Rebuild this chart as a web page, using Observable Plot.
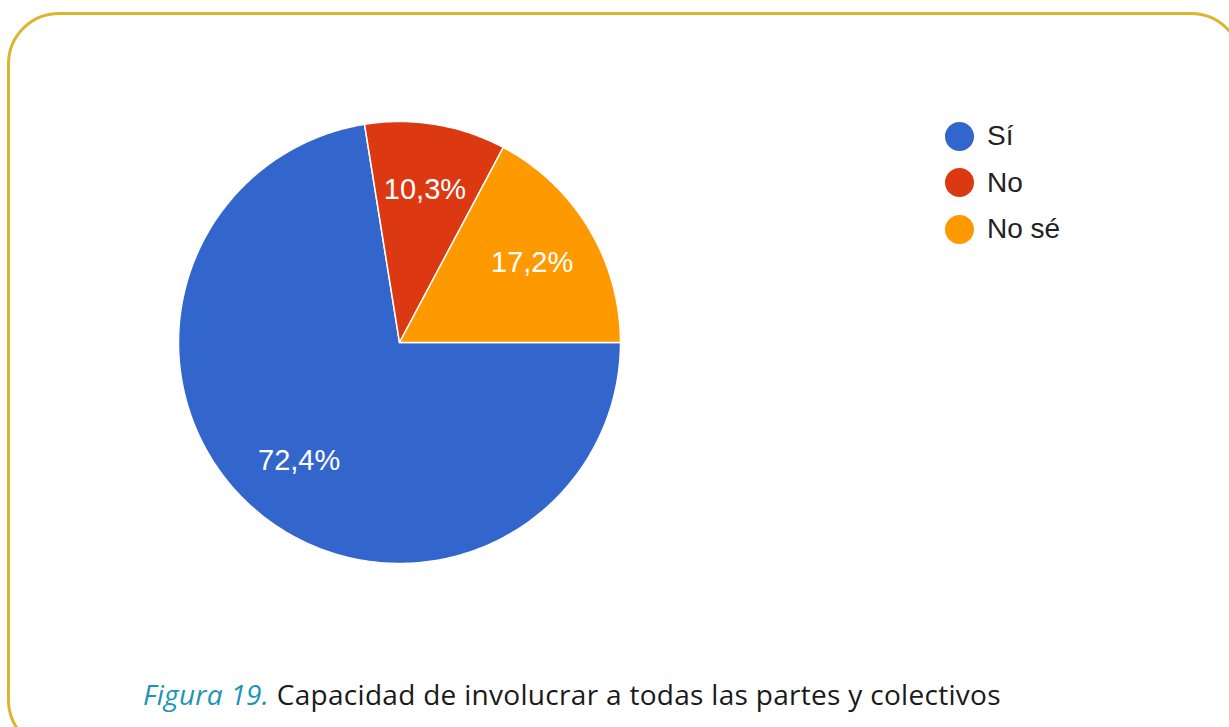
<!DOCTYPE html>
<html>
<head>
<meta charset="utf-8">
<script src="https://cdn.jsdelivr.net/npm/d3@7"></script>
<script src="https://cdn.jsdelivr.net/npm/@observablehq/plot@0.6"></script>
<style>
  html, body { margin: 0; padding: 0; background: #fff; width: 1229px; height: 727px; overflow: hidden; }
  #frame { position: absolute; left: 7px; top: 12px; width: 1236px; height: 740px; border: 3px solid #dbb62c; border-radius: 52px; box-sizing: border-box; }
  #chart { position: absolute; left: 0; top: 0; }
  #legend { position: absolute; left: 945px; top: 113px; font-family: "Liberation Sans", Arial, sans-serif; font-size: 28px; color: #222; }
  #legend .item { display: flex; align-items: center; height: 46.5px; }
  #legend .sw { width: 29px; height: 29px; border-radius: 50%; margin-right: 13px; }
  #caption { position: absolute; left: 143px; top: 675px; font-family: "Open Sans", sans-serif; font-size: 28px; letter-spacing: 0.3px; color: #1a1a1a; white-space: nowrap; }
  #caption em { color: #1996b6; }
</style>
</head>
<body>
<div id="frame"></div>
<div id="chart"></div>
<div id="legend"></div>
<div id="caption"><em>Figura 19.</em> Capacidad de involucrar a todas las partes y colectivos</div>
<script>
const categories = ["Sí", "No", "No sé"];
const values = [72.4, 10.3, 17.2];
const labels = ["72,4%", "10,3%", "17,2%"];
const colors = ["#3366cc", "#dc3912", "#ff9900"];

const data = categories.map((c, i) => ({key: c, value: values[i], label: labels[i]}));
const pie = d3.pie().value(d => d.value).sort(null)
  .startAngle(Math.PI / 2).endAngle(Math.PI / 2 + 2 * Math.PI)(data);

// polygon vertices for every slice (centre, arc samples, centre)
const poly = [];
for (const a of pie) {
  const n = Math.max(4, Math.ceil((a.endAngle - a.startAngle) / (2 * Math.PI) * 360));
  poly.push({key: a.data.key, x: 0, y: 0});
  for (let k = 0; k <= n; k++) {
    const t = a.startAngle + (a.endAngle - a.startAngle) * k / n;
    poly.push({key: a.data.key, x: Math.sin(t), y: Math.cos(t)});
  }
  poly.push({key: a.data.key, x: 0, y: 0});
}
const labelR = 0.7;
const labelPts = pie.map(a => {
  const m = (a.startAngle + a.endAngle) / 2;
  return {label: a.data.label, x: labelR * Math.sin(m), y: labelR * Math.cos(m)};
});

const chart = Plot.plot({
  width: 1229,
  height: 727,
  margin: 0,
  x: {domain: [-1, 1], range: [178, 620], axis: null},
  y: {domain: [-1, 1], range: [563, 121], axis: null},
  color: {domain: categories, range: colors},
  marks: [
    Plot.line(poly, {x: "x", y: "y", z: "key", fill: "key", stroke: "white", strokeWidth: 1.5, curve: "linear-closed"}),
    Plot.text(labelPts, {x: "x", y: "y", text: "label", fill: "white", fontSize: 29, fontFamily: "Liberation Sans, Arial, sans-serif"})
  ],
  style: {background: "transparent", overflow: "visible"}
});
document.getElementById("chart").appendChild(chart);

const legend = document.getElementById("legend");
categories.forEach((c, i) => {
  const it = document.createElement("div");
  it.className = "item";
  const sw = document.createElement("div");
  sw.className = "sw";
  sw.style.background = colors[i];
  const tx = document.createElement("span");
  tx.textContent = c;
  it.appendChild(sw); it.appendChild(tx);
  legend.appendChild(it);
});
</script>
</body>
</html>
